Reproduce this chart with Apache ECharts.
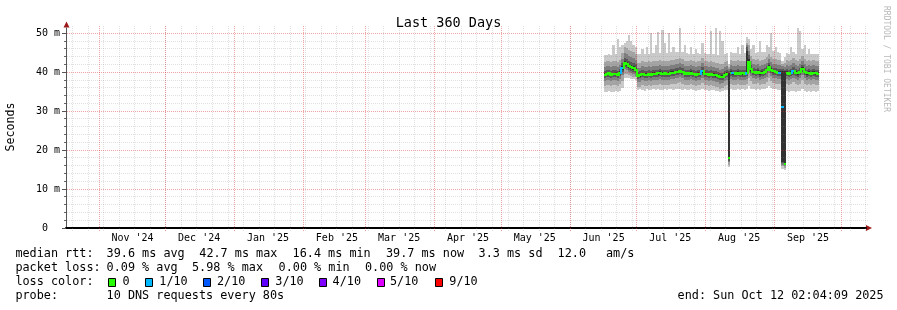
<!DOCTYPE html>
<html><head><meta charset="utf-8">
<script src="https://cdn.jsdelivr.net/npm/echarts@6/dist/echarts.min.js"></script>
<style>html,body{margin:0;padding:0;background:#fff}#c{width:897px;height:310px}</style>
</head><body><div id="c"></div>
<script>
// ---------------- DATA ----------------
const titleText = 'Last 360 Days';
const yAxisName = 'Seconds';
const yTickValues = [0, 10, 20, 30, 40, 50];
const monthTicks = ['2024-11-01','2024-12-01','2025-01-01','2025-02-01','2025-03-01','2025-04-01','2025-05-01','2025-06-01','2025-07-01','2025-08-01','2025-09-01','2025-10-01'];
const monthLabels = ["Nov '24","Dec '24","Jan '25","Feb '25","Mar '25","Apr '25","May '25","Jun '25","Jul '25","Aug '25","Sep '25"];
const firstDay = '2025-06-16';   // one value per day from here
// median rtt (ms), per day
const median = [
 39.4,39.5,39.7,39.3,39.5,39.6,39.4,39.8,41.0,42.3,
 42.0,41.6,41.3,41.0,40.6,39.0,39.2,39.5,39.4,39.3,
 39.5,39.4,39.6,39.5,39.7,39.8,39.6,39.7,39.5,39.6,
 39.8,39.9,40.0,40.1,40.3,40.0,39.6,39.7,39.5,39.8,
 39.5,39.4,39.6,39.5,40.3,39.6,39.5,39.3,39.5,39.4,
 39.2,39.1,38.7,38.9,39.4,39.6,17.9,39.8,39.7,39.6,
 39.8,39.5,39.7,39.6,39.8,42.7,40.8,40.0,39.8,40.1,
 39.7,39.9,40.0,40.5,41.4,40.6,40.2,40.0,39.9,39.8,
 31.0,16.4,39.8,39.6,39.9,40.3,39.8,39.7,40.0,40.9,
 40.0,39.7,39.9,39.6,39.8,39.7,39.6];
// lost pings out of 10, per day
const lossCount = [
 0,0,0,0,0,0,0,0,1,0, 0,0,0,0,0,0,0,0,0,0, 0,0,0,0,0,0,0,0,0,0,
 0,0,0,0,0,0,0,0,0,0, 0,0,0,0,1,0,0,0,0,0, 0,0,0,0,0,0,0,0,1,0,
 0,0,0,0,1,0,0,0,0,0, 0,0,0,0,0,0,0,0,0,1, 1,0,0,0,0,1,0,0,0,0,
 0,0,0,0,0,0,0];
// sorted ping rtts (ms) per day: ping1 = fastest ... ping10 = slowest
const ping1 = [
 35.0,34.8,35.2,35.0,34.9,35.1,35.0,35.3,36.0,38.6,
 38.5,38.4,38.3,38.2,38.0,35.4,35.6,35.5,35.3,35.6,
 35.5,35.4,35.7,35.5,35.6,35.5,35.4,35.6,35.5,35.7,
 35.6,35.5,35.8,35.6,35.7,35.5,35.6,35.4,35.5,35.6,
 35.5,35.3,35.5,35.4,35.6,35.5,35.4,35.3,35.5,35.4,
 35.2,35.3,35.0,35.2,35.4,35.5,15.6,35.6,35.5,35.4,
 35.6,35.5,35.7,35.5,35.6,36.5,35.8,35.7,35.5,35.6,
 35.4,35.6,35.7,36.0,36.4,36.0,35.7,35.6,35.5,35.4,
 15.2,14.9,35.2,35.0,35.1,35.3,35.0,35.1,35.2,35.6,
 35.2,35.0,35.1,34.9,35.1,35.0,35.2];
const ping2 = [
 36.5,36.6,36.8,36.4,36.6,36.7,36.5,36.9,37.8,39.6,
 39.5,39.3,39.1,38.9,38.7,36.1,36.3,36.6,36.5,36.4,
 36.6,36.5,36.7,36.6,36.8,36.9,36.7,36.8,36.6,36.7,
 36.9,37.0,37.1,37.2,37.4,37.1,36.7,36.8,36.6,36.9,
 36.6,36.5,36.7,36.6,37.3,36.7,36.6,36.4,36.6,36.5,
 36.3,36.2,35.8,36.0,36.5,36.7,16.3,36.9,36.8,36.7,
 36.9,36.6,36.8,36.7,37.0,38.5,37.8,37.1,36.9,37.2,
 36.8,37.0,37.1,37.6,38.4,37.7,37.3,37.1,37.0,36.9,
 15.8,15.4,36.9,36.7,37.0,37.4,36.9,36.8,37.1,37.9,
 37.1,36.8,37.0,36.7,36.9,36.8,36.7];
const ping3 = [
 37.8,37.9,38.1,37.7,37.9,38.0,37.8,38.2,39.4,40.8,
 40.5,40.1,39.8,39.5,39.1,37.4,37.6,37.9,37.8,37.7,
 37.9,37.8,38.0,37.9,38.1,38.2,38.0,38.1,37.9,38.0,
 38.2,38.3,38.4,38.5,38.7,38.4,38.0,38.1,37.9,38.2,
 37.9,37.8,38.0,37.9,38.6,38.0,37.9,37.7,37.9,37.8,
 37.6,37.5,37.1,37.3,37.8,38.0,16.9,38.2,38.1,38.0,
 38.2,37.9,38.1,38.0,38.2,40.0,39.1,38.4,38.2,38.5,
 38.1,38.3,38.4,38.9,39.7,39.0,38.6,38.4,38.3,38.2,
 16.3,15.8,38.2,38.0,38.3,38.6,38.2,38.1,38.4,39.2,
 38.4,38.1,38.3,38.0,38.2,38.1,38.0];
const ping4 = [
 38.6,38.7,38.9,38.5,38.7,38.8,38.6,39.0,40.1,41.4,
 41.1,40.7,40.4,40.1,39.7,38.2,38.4,38.7,38.6,38.5,
 38.7,38.6,38.8,38.7,38.9,39.0,38.8,38.9,38.7,38.8,
 39.0,39.1,39.2,39.3,39.5,39.2,38.8,38.9,38.7,39.0,
 38.7,38.6,38.8,38.7,39.4,38.8,38.7,38.5,38.7,38.6,
 38.4,38.3,37.9,38.1,38.6,38.8,17.3,39.0,38.9,38.8,
 39.0,38.7,38.9,38.8,39.0,41.2,39.9,39.2,39.0,39.3,
 38.9,39.1,39.2,39.7,40.5,39.8,39.4,39.2,39.1,39.0,
 16.7,16.1,39.0,38.8,39.1,39.4,39.0,38.9,39.2,40.0,
 39.2,38.9,39.1,38.8,39.0,38.9,38.8];
const ping5 = [
 39.1,39.2,39.4,39.0,39.2,39.3,39.1,39.5,40.6,41.9,
 41.6,41.2,40.9,40.6,40.2,38.7,38.9,39.2,39.1,39.0,
 39.2,39.1,39.3,39.2,39.4,39.5,39.3,39.4,39.2,39.3,
 39.5,39.6,39.7,39.8,40.0,39.7,39.3,39.4,39.2,39.5,
 39.2,39.1,39.3,39.2,39.9,39.3,39.2,39.0,39.2,39.1,
 38.9,38.8,38.4,38.6,39.1,39.3,17.6,39.5,39.4,39.3,
 39.5,39.2,39.4,39.3,39.5,42.2,40.4,39.7,39.5,39.8,
 39.4,39.6,39.7,40.2,41.0,40.3,39.9,39.7,39.6,39.5,
 17.0,16.3,39.5,39.3,39.6,39.9,39.5,39.4,39.7,40.5,
 39.7,39.4,39.6,39.3,39.5,39.4,39.3];
const ping6 = [
 39.8,39.9,40.1,39.7,39.9,40.0,39.8,40.2,41.6,42.9,
 42.6,42.2,41.9,41.6,41.2,39.4,39.6,39.9,39.8,39.7,
 39.9,39.8,40.0,39.9,40.1,40.2,40.0,40.1,39.9,40.0,
 40.2,40.3,40.4,40.5,40.7,40.4,40.0,40.1,39.9,40.2,
 39.9,39.8,40.0,39.9,40.7,40.0,39.9,39.7,39.9,39.8,
 39.6,39.5,39.1,39.3,39.8,40.0,39.8,40.2,40.1,40.0,
 40.2,39.9,40.1,40.0,45.5,43.3,41.2,40.4,40.2,40.5,
 40.1,40.3,40.4,40.9,41.8,41.0,40.6,40.4,40.3,40.2,
 40.4,40.2,40.2,40.0,40.3,40.7,40.2,40.1,40.4,41.3,
 40.4,40.1,40.3,40.0,40.2,40.1,40.0];
const ping7 = [
 40.4,40.5,40.7,40.3,40.5,40.6,40.4,40.8,42.3,43.7,
 43.4,43.0,42.7,42.4,42.0,40.0,40.2,40.5,40.4,40.3,
 40.5,40.4,40.6,40.5,40.7,40.8,40.6,40.7,40.5,40.6,
 40.8,40.9,41.0,41.1,41.3,41.0,40.6,40.7,40.5,40.8,
 40.5,40.4,40.6,40.5,41.3,40.6,40.5,40.3,40.5,40.4,
 40.2,40.1,39.7,39.9,40.4,40.6,40.3,40.8,40.7,40.6,
 40.8,40.5,40.7,40.6,46.5,44.3,41.8,41.0,40.8,41.1,
 40.7,40.9,41.0,41.5,42.4,41.6,41.2,41.0,40.9,40.8,
 40.9,40.7,40.8,40.6,40.9,41.3,40.8,40.7,41.0,41.9,
 41.0,40.7,40.9,40.6,40.8,40.7,40.6];
const ping8 = [
 41.4,41.5,41.7,41.3,41.5,41.6,41.4,41.8,43.4,44.9,
 44.6,44.2,43.9,43.6,43.2,41.0,41.2,41.5,41.4,41.3,
 41.5,41.4,41.6,41.5,41.7,41.8,41.6,41.7,41.5,41.6,
 41.8,41.9,42.0,42.1,42.3,42.0,41.6,41.7,41.5,41.8,
 41.5,41.4,41.6,41.5,42.3,41.6,41.5,41.3,41.5,41.4,
 41.2,41.1,40.7,40.9,41.4,41.6,40.8,41.8,41.7,41.6,
 41.8,41.5,41.7,41.6,47.0,45.5,42.8,42.0,41.8,42.1,
 41.7,41.9,42.0,42.5,43.4,42.6,42.2,42.0,41.9,41.8,
 41.5,41.3,41.8,41.6,41.9,42.3,41.8,41.7,42.0,42.9,
 42.0,41.7,41.9,41.6,41.8,41.7,41.6];
const ping9 = [
 42.7,42.8,43.0,42.6,42.8,42.9,42.7,43.1,45.0,46.5,
 46.2,45.8,45.5,45.2,44.8,42.3,42.5,42.8,42.7,42.6,
 42.8,42.7,42.9,42.8,43.0,43.1,42.9,43.0,42.8,42.9,
 43.1,43.2,43.3,43.4,43.6,43.3,42.9,43.0,42.8,43.1,
 42.8,42.7,42.9,42.8,43.6,42.9,42.8,42.6,42.8,42.7,
 42.5,42.4,42.0,42.2,42.7,42.9,41.3,43.1,43.0,42.9,
 43.1,42.8,43.0,42.9,47.5,47.0,44.1,43.3,43.1,43.4,
 43.0,43.2,43.3,43.8,44.7,43.9,43.5,43.3,43.2,43.1,
 42.2,42.5,43.1,42.9,43.2,43.6,43.1,43.0,43.3,44.2,
 43.3,43.0,43.2,42.9,43.1,43.0,42.9];
const ping10 = [
 44.5,44.3,44.8,44.4,47.0,44.6,48.5,46.5,47.0,47.5,
 48.0,49.5,48.0,47.0,46.5,44.6,44.8,46.0,44.7,46.5,
 44.8,50.0,44.9,47.0,50.3,45.0,50.8,47.5,44.9,50.0,
 45.1,46.5,45.2,45.3,52.5,45.2,47.0,44.9,44.7,46.5,
 44.8,46.0,44.9,44.8,47.5,44.9,44.8,44.6,50.5,44.7,
 51.5,44.5,50.5,48.0,44.8,45.0,42.0,45.1,45.0,44.9,
 46.5,44.8,47.0,44.9,49.0,48.5,46.0,47.0,45.0,45.3,
 48.0,45.1,45.2,47.0,46.5,50.0,45.4,46.5,45.1,45.0,
 43.0,44.0,44.9,44.7,46.5,45.2,44.8,52.0,50.5,46.0,
 47.0,44.7,46.0,44.6,44.8,44.7,44.6];
// legend texts
const rttLabel = 'median rtt:';
const rttStats = ['39.6 ms avg','42.7 ms max','16.4 ms min','39.7 ms now','3.3 ms sd','12.0','am/s'];
const lossLabel = 'packet loss:';
const lossStats = ['0.09 % avg','5.98 % max','0.00 % min','0.00 % now'];
const colorLabel = 'loss color:';
const lossLabels = ['0','1/10','2/10','3/10','4/10','5/10','9/10'];
const lossColors = ['#26ff00','#00b8ff','#0059ff','#5e00ff','#7e00ff','#dd00ff','#ff0000'];
const probeLabel = 'probe:';
const probeText = '10 DNS requests every 80s';
const endText = 'end: Sun Oct 12 02:04:09 2025';
const watermark = 'RRDTOOL / TOBI OETIKER';

// ---------------- STYLE / LAYOUT ----------------
const MONO = '"DejaVu Sans Mono", "Liberation Mono", monospace';
const DAY = 86400000;
const END = Date.UTC(2025, 9, 12, 2, 4, 9);
const START = END - 360 * DAY;
const Y_MAX = 51.36;
const smokeColors = ['#cacaca', '#a4a4a4', '#7e7e7e', '#585858', '#323232'];
const pings = [ping1, ping2, ping3, ping4, ping5, ping6, ping7, ping8, ping9, ping10];
const parseDay = s => { const p = s.split('-').map(Number); return Date.UTC(p[0], p[1] - 1, p[2]); };
const day0 = parseDay(firstDay);
const dayTs = median.map((_, i) => day0 + i * DAY);

// grid line positions (weekly minor, monthly major)
const weekGrid = [];
for (let t = Date.UTC(2024, 9, 20); t < END; t += 7 * DAY) weekGrid.push([t, 0]);
const monthGrid = monthTicks.map(s => [parseDay(s), 0]);
const hGrid = [];
for (let v = 2; v <= 50; v += 2) hGrid.push([START, v, v % 10 === 0 ? 1 : 0]);
const labelData = monthLabels.map((l, i) => [parseDay(monthTicks[i]) + 15 * DAY, 0]);

const MINOR = 'rgba(128,128,128,0.24)';
const MAJOR = 'rgba(225,40,40,0.42)';
const ARROW = '#9e1a1a';

const chart = echarts.init(document.getElementById('c'), null, {renderer: 'canvas'});

function txt(text, x, y, size, align) {
  return {type: 'text', x: x, y: y, silent: true,
    style: {text: text, font: size + 'px ' + MONO, fill: '#000',
      align: align || 'left', textAlign: align || 'left', verticalAlign: 'middle', textVerticalAlign: 'middle'}};
}

const graphics = [];
// y axis name
const nameEl = txt(yAxisName, 11, 127, 11.6, 'center');
nameEl.rotation = Math.PI / 2;
graphics.push(nameEl);
// watermark
graphics.push({type: 'text', x: 886, y: 59, rotation: -Math.PI / 2, silent: true,
  style: {text: watermark, font: '8px ' + MONO, fill: '#b8b8b8', align: 'center', textAlign: 'center', verticalAlign: 'middle', textVerticalAlign: 'middle'}});
// axis arrows
graphics.push({type: 'polygon', silent: true, shape: {points: [[63.5, 27.5], [69.5, 27.5], [66.5, 21.5]]}, style: {fill: ARROW}});
graphics.push({type: 'polygon', silent: true, shape: {points: [[866, 225], [866, 231], [872, 228]]}, style: {fill: ARROW}});
// legend lines
const LF = 11.8;
const rttX = [106.6, 199.3, 292.6, 386, 478.6, 557.6, 606];
graphics.push(txt(rttLabel, 15.4, 254.3, LF));
rttStats.forEach((s, i) => graphics.push(txt(s, rttX[i], 254.3, LF)));
const lossX = [106.6, 192, 278.6, 365];
graphics.push(txt(lossLabel, 15.4, 268.3, LF));
lossStats.forEach((s, i) => graphics.push(txt(s, lossX[i], 268.3, LF)));
graphics.push(txt(colorLabel, 15.4, 282.3, LF));
const boxX = [108.5, 145.5, 203.5, 261.5, 319.5, 377.5, 435.5];
const lblX = [122.6, 159.3, 217, 275.3, 332.6, 390, 449.3];
lossLabels.forEach((l, i) => {
  graphics.push({type: 'rect', silent: true, shape: {x: boxX[i], y: 278.5, width: 7, height: 8},
    style: {fill: lossColors[i], stroke: '#000', lineWidth: 1}});
  graphics.push(txt(l, lblX[i], 282.3, LF));
});
graphics.push(txt(probeLabel, 15.4, 296.3, LF));
graphics.push(txt(probeText, 106.6, 296.3, LF));
graphics.push(txt(endText, 677.6, 296.3, LF));

function clampY(y, cs) { return Math.min(Math.max(y, cs.y), cs.y + cs.height); }

function vLineSeries(data, color, z) {
  return {
    type: 'custom', z: z, silent: true, data: data, encode: {x: 0, y: 1},
    renderItem: function (params, api) {
      const cs = params.coordSys;
      const d = data[params.dataIndex];
      const x = Math.floor(api.coord([d[0], 0])[0]) + 0.5;
      return {type: 'line', shape: {x1: x, y1: cs.y + cs.height + 3, x2: x, y2: cs.y - 2},
        style: {stroke: color, lineWidth: 1, lineDash: [1, 1]}};
    }
  };
}

const option = {
  backgroundColor: '#ffffff',
  animation: false,
  title: {text: titleText, left: 'center', top: 11,
    textStyle: {fontFamily: MONO, fontSize: 13.5, fontWeight: 'normal', color: '#000'}},
  grid: {left: 66, right: 31, top: 28, bottom: 82, containLabel: false},
  xAxis: {type: 'value', min: START, max: END,
    axisLine: {show: true, onZero: false, lineStyle: {color: '#000', width: 2}},
    axisTick: {show: false}, axisLabel: {show: false}, splitLine: {show: false}},
  yAxis: {type: 'value', min: 0, max: Y_MAX, interval: 10,
    axisLine: {show: true, lineStyle: {color: '#555', width: 1}},
    axisTick: {show: true, length: 4, customValues: yTickValues, lineStyle: {color: '#555'}},
    axisLabel: {show: true, margin: 6, customValues: yTickValues, fontFamily: MONO, fontSize: 10, color: '#000',
      formatter: v => v === 0 ? '0  ' : v + ' m'},
    splitLine: {show: false}},
  graphic: graphics,
  series: [
    { // smoke
      type: 'custom', z: 2, silent: true,
      data: dayTs.map((t, i) => [t, median[i]]),
      encode: {x: 0, y: 1},
      renderItem: function (params, api) {
        const i = params.dataIndex;
        const cs = params.coordSys;
        const t0 = dayTs[i];
        const x0 = Math.round(api.coord([t0, 0])[0]);
        const x1 = Math.round(api.coord([t0 + DAY, 0])[0]);
        const children = [];
        for (let b = 0; b < 5; b++) {
          const lo = pings[b][i], hi = pings[9 - b][i];
          const yHi = Math.round(clampY(api.coord([t0, hi])[1], cs));
          const yLo = Math.round(clampY(api.coord([t0, lo])[1], cs));
          children.push({type: 'rect', shape: {x: x0, y: yHi, width: x1 - x0, height: Math.max(1, yLo - yHi)},
            style: {fill: smokeColors[b]}});
        }
        return {type: 'group', children: children};
      }
    },
    vLineSeries(weekGrid, MINOR, 3),
    vLineSeries(monthGrid, MAJOR, 3),
    { // horizontal grid
      type: 'custom', z: 3, silent: true,
      data: hGrid, encode: {x: 0, y: 1},
      renderItem: function (params, api) {
        const cs = params.coordSys;
        const d = hGrid[params.dataIndex];
        const y = Math.floor(api.coord([d[0], d[1]])[1]) + 0.5;
        const children = [
          {type: 'line', shape: {x1: cs.x + 1, y1: y, x2: cs.x + cs.width + 2, y2: y},
            style: {stroke: d[2] ? MAJOR : MINOR, lineWidth: 1, lineDash: [1, 1]}}
        ];
        if (!d[2]) children.push({type: 'line', shape: {x1: cs.x - 2, y1: y, x2: cs.x, y2: y},
          style: {stroke: '#666', lineWidth: 1}});
        return {type: 'group', children: children};
      }
    },
    { // median line coloured by loss
      type: 'custom', z: 4, silent: true,
      data: dayTs.map((t, i) => [t, median[i]]),
      encode: {x: 0, y: 1},
      renderItem: function (params, api) {
        const i = params.dataIndex;
        const t0 = dayTs[i];
        const x0 = Math.round(api.coord([t0, 0])[0]);
        const x1 = Math.round(api.coord([t0 + DAY, 0])[0]);
        const y = Math.round(api.coord([t0, median[i]])[1]);
        const col = lossColors[lossCount[i]];
        const children = [{type: 'rect', shape: {x: x0, y: y - 1, width: x1 - x0, height: 2}, style: {fill: col}}];
        if (i > 0 && Math.abs(median[i] - median[i - 1]) < 4) {
          const yp = Math.round(api.coord([t0, median[i - 1]])[1]);
          const top = Math.min(y, yp) - 1, bot = Math.max(y, yp) + 1;
          children.push({type: 'rect', shape: {x: x0 - 1, y: top, width: 2, height: bot - top}, style: {fill: col}});
        }
        return {type: 'group', children: children};
      }
    },
    { // month labels
      type: 'custom', z: 5, silent: true,
      data: labelData, encode: {x: 0, y: 1},
      renderItem: function (params, api) {
        const d = labelData[params.dataIndex];
        const p = api.coord([d[0], 0]);
        return {type: 'text', x: p[0], y: p[1] + 10.5,
          style: {text: monthLabels[params.dataIndex], font: '10px ' + MONO, fill: '#000',
            align: 'center', textAlign: 'center', verticalAlign: 'middle', textVerticalAlign: 'middle'}};
      }
    }
  ]
};
chart.setOption(option);
</script>
</body></html>
